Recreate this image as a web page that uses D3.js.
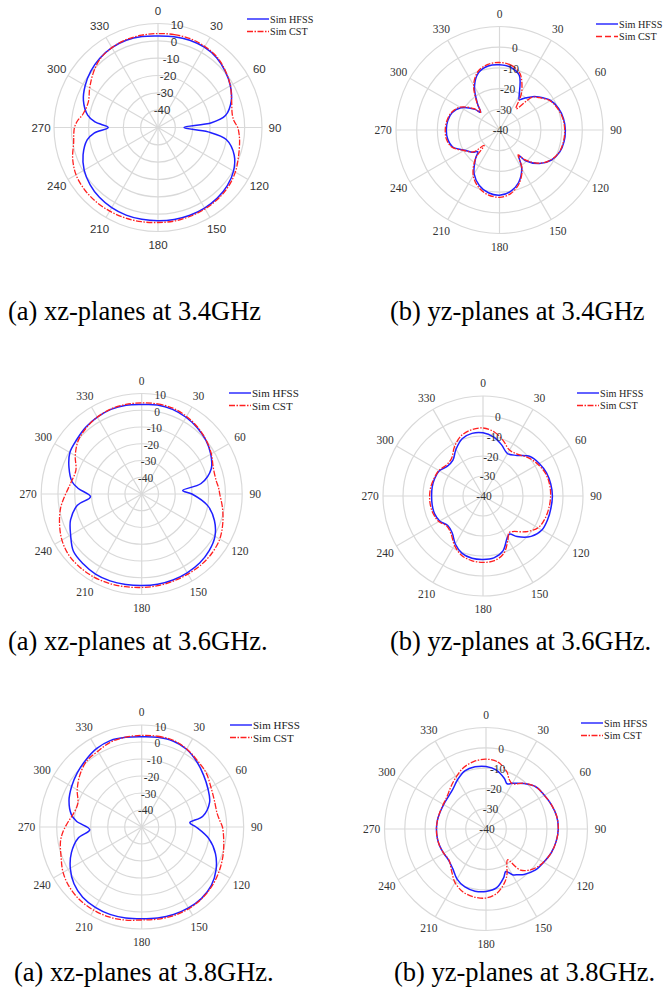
<!DOCTYPE html>
<html>
<head>
<meta charset="utf-8">
<script src="https://cdn.jsdelivr.net/npm/d3@7"></script>
<style>
  body { margin: 0; background: #fff; }
  svg { display: block; }
</style>
</head>
<body>
<script>
// ---- Radiation pattern data (gain in dB vs. angle in degrees) ----

// xz-plane, 3.4 GHz
const angXZ34 = [0,10,20,30,40,50,60,70,80,85,90,95,100,110,120,130,140,150,160,170,180,190,200,210,220,230,240,250,260,265,270,275,280,290,300,310,320,330,340,350];
const hfssXZ34 = [2.8,3.2,3.6,3.5,2.6,0.6,-1.8,-5,-10.5,-19,-35,-21,-10,-3.2,0.3,2.2,3.2,3.7,3.9,3.9,3.8,3.8,3.8,3.4,2.6,1.2,-0.8,-4,-8.5,-13,-21.3,-13.5,-8.8,-4.2,-1.5,0.6,2.2,3.2,3.6,3.3];
const cstXZ34 = [4.2,4.4,4.5,4.0,3.0,0.8,-1.8,-4.8,-6.5,-6,-4,-3,-2.2,-0.6,1.5,3,3.8,4.2,4.5,4.8,4.8,5.2,5.5,5.7,5.8,5.5,4.6,2.4,-0.6,-1.2,-1.8,-3.5,-6,-7.2,-4.5,-1.2,1.8,3.2,3.9,4.1];

// yz-plane, 3.4 GHz
const angYZ34 = [0,10,20,30,33,38,45,50,60,70,80,90,100,110,120,130,140,143,150,160,170,180,190,200,210,220,225,230,240,250,260,270,280,290,300,310,313,320,330,340,350];
const hfssYZ34 = [-8.5,-9.2,-12,-21,-22.5,-20.5,-17.2,-15.2,-11.5,-9.6,-8.6,-8.2,-8.3,-9,-11,-14.8,-20.8,-24.5,-18.5,-13,-9.8,-8.5,-9.2,-11.5,-15.5,-22,-25.2,-23.2,-20.5,-16,-14.6,-14.3,-14.6,-15.6,-18.5,-24.5,-27.5,-23.5,-15.8,-10.5,-8.6];
const cstYZ34 = [-7.4,-8.2,-11,-18.5,-22,-27,-17.5,-15.6,-11.8,-10,-8.9,-8.5,-8.6,-9.2,-11.2,-15,-21.5,-25,-18.2,-12.4,-8.8,-7.5,-8.2,-10.5,-14.6,-22,-29.5,-23.5,-20.2,-15.6,-14,-13.8,-14.2,-15.3,-18,-24,-27.5,-23.2,-15,-9.8,-7.8];

// xz-plane, 3.6 GHz
const angXZ36 = [0,10,20,30,40,50,60,70,80,85,90,100,110,120,130,140,150,160,170,180,190,200,210,220,230,240,250,260,267,275,280,290,300,310,320,330,340,350];
const hfssXZ36 = [3.4,4.0,3.8,2.9,1.6,0,-2.4,-5.8,-14,-25.4,-20,-10,-3.8,0.5,2.6,3.8,4.3,4.6,4.7,4.6,4.8,5.2,5.2,4.4,3.2,-1,-4.8,-11,-19.4,-12,-7.8,-3.8,-0.5,0.6,2.0,3.0,3.8,3.8];
const cstXZ36 = [4.4,4.6,4.5,3.5,2,0.2,-2,-4.5,-4.8,-4,-3.4,-1,1.5,3.8,4.8,5.2,5.2,5.3,5.6,5.8,6.2,6.8,7.2,7.2,6.8,5,2.2,-0.8,-3.5,-6.2,-7.4,-8.2,-4.2,-0.5,1.5,3,4,4.3];

// yz-plane, 3.6 GHz
const angYZ36 = [0,10,20,30,40,50,60,70,80,90,100,110,120,130,140,145,150,160,170,180,190,200,210,220,230,240,250,260,270,280,290,300,310,320,330,340,350];
const hfssYZ36 = [-8.4,-10,-12.8,-15.5,-13.5,-9.3,-7.5,-6.2,-5.6,-5.3,-5.5,-5.6,-6,-8.6,-13.5,-16.8,-15.8,-10.8,-8.6,-8.3,-8.4,-9.5,-12.3,-16,-17,-15,-14.2,-14.2,-14.3,-14.2,-14.3,-14.8,-16.8,-16.6,-13,-9.5,-8.2];
const cstYZ36 = [-6,-7.5,-10.5,-13.5,-12.8,-10.3,-8.3,-6.8,-6.2,-6.2,-6.5,-7,-8.2,-12.2,-16.8,-17.5,-15,-9.5,-7.2,-6.8,-7.2,-8.5,-11.5,-15.2,-16.5,-14.5,-13.6,-13.3,-13.3,-13.5,-14,-14.5,-16,-15.5,-11.5,-8,-6.4];

// xz-plane, 3.8 GHz
const angXZ38 = [0,10,20,30,40,50,60,70,80,85,90,100,110,120,130,140,150,160,170,180,190,200,210,220,230,240,250,260,267,275,280,290,300,310,320,330,340,350];
const hfssXZ38 = [3.1,3.6,3.8,2.8,0.3,-2.5,-5,-7.5,-13.5,-21.6,-18,-9.8,-3.8,0.5,3.5,4.8,5,4.8,4.3,3.9,4.3,4.7,4.6,4,2,-1.5,-6,-12,-19.4,-11.5,-8,-4.5,-2.4,-0.5,1.3,3.2,4.1,3.6];
const cstXZ38 = [3.9,4.2,4.3,3,1,-0.5,-3,-4.5,-4.9,-4,-2.5,-1,0.8,2.5,4,5,5.5,5.4,5,4.7,5.6,6.3,6.5,6.3,5.3,3.4,0.5,-1.5,-3.8,-7,-8.8,-10,-6.2,-2.5,0.5,1.5,3.2,3.7];

// yz-plane, 3.8 GHz
const angYZ38 = [0,10,20,25,30,40,50,60,70,80,90,100,110,120,130,140,145,150,155,160,170,180,190,200,210,220,230,240,250,260,270,280,290,300,310,320,330,340,350];
const hfssYZ38 = [-9.2,-10.5,-13.5,-15.4,-14,-10.8,-7.8,-6.8,-5.6,-4.6,-4.4,-4.9,-5.8,-7.2,-8.4,-10.8,-12.5,-14,-16.9,-14.5,-10.5,-9.2,-8.9,-9.6,-11.5,-14.5,-16,-16,-15.7,-15.6,-15.6,-15.7,-15.9,-15.9,-15.6,-14.5,-12,-9.5,-8.9];
const cstYZ38 = [-5.6,-6.5,-10,-13,-14.2,-10.6,-7.8,-6.8,-5.6,-4.6,-4.4,-4.9,-5.8,-7.3,-9.5,-13.5,-21.5,-19.5,-15.5,-12.5,-8,-6,-6,-7,-9.5,-13.5,-16.2,-16,-15.7,-15.6,-15.6,-15.7,-15.8,-15.7,-15,-13,-10.5,-7.8,-6.2];

// Axis ticks and labels
const angleTicks = [0,30,60,90,120,150,180,210,240,270,300,330];
const radialTicksXZ = [-40,-30,-20,-10,0,10];
const radialTicksYZ = [-40,-30,-20,-10,0];
const seriesNames = ["Sim HFSS", "Sim CST"];
const captions = [
  "(a) xz-planes at 3.4GHz", "(b) yz-planes at 3.4GHz",
  "(a) xz-planes at 3.6GHz.", "(b) yz-planes at 3.6GHz.",
  "(a) xz-planes at 3.8GHz.", "(b) yz-planes at 3.8GHz."
];

// ---- Layout ----
const W = 668, H = 990;
const SANS = "'Liberation Sans', Arial, sans-serif";
const SERIF = "'Liberation Serif', 'Times New Roman', serif";
const BLUE = "#1f1fff", RED = "#ff2020", GRID = "#d9d9d9";
const DASHDOT = "6,1.5,1.5,1.5", DASH = "6,3";

const panels = [
  { ang: angXZ34, hfss: hfssXZ34, cst: cstXZ34, cx: 158, cy: 127.5, R: 104, min: -50, rt: radialTicksXZ, font: SANS, leg: [247, 19], legSize: 10.2, legDash: DASHDOT },
  { ang: angYZ34, hfss: hfssYZ34, cst: cstYZ34, cx: 499.5, cy: 130, R: 103.5, min: -40, rt: radialTicksYZ, font: SERIF, leg: [596, 24], legSize: 10.2, legDash: DASH },
  { ang: angXZ36, hfss: hfssXZ36, cst: cstXZ36, cx: 141.7, cy: 494, R: 100.5, min: -50, rt: radialTicksXZ, font: SERIF, leg: [229, 393], legSize: 11, legDash: DASHDOT },
  { ang: angYZ36, hfss: hfssYZ36, cst: cstYZ36, cx: 483, cy: 496, R: 100, min: -40, rt: radialTicksYZ, font: SERIF, leg: [577, 393], legSize: 10.2, legDash: DASHDOT },
  { ang: angXZ38, hfss: hfssXZ38, cst: cstXZ38, cx: 141.7, cy: 827, R: 102, min: -50, rt: radialTicksXZ, font: SERIF, leg: [230, 725], legSize: 11, legDash: DASHDOT },
  { ang: angYZ38, hfss: hfssYZ38, cst: cstYZ38, cx: 486, cy: 829, R: 101.5, min: -40, rt: radialTicksYZ, font: SERIF, leg: [581, 723], legSize: 10.2, legDash: DASHDOT }
];

const captionPos = [[8, 320], [390, 320], [8, 650], [390, 650], [14, 981], [394, 981]];

const svg = d3.select("body").append("svg")
  .attr("width", W).attr("height", H)
  .attr("viewBox", `0 0 ${W} ${H}`);

const rad = d => d * Math.PI / 180;

function drawPolar(p) {
  const g = svg.append("g").attr("transform", `translate(${p.cx},${p.cy})`);
  const r = d3.scaleLinear().domain([p.min, 10]).range([0, p.R]).clamp(true);

  // concentric rings, one per 10 dB
  const rings = d3.range(p.min + 10, 10.001, 10);
  g.selectAll("circle.ring").data(rings).join("circle")
    .attr("class", "ring")
    .attr("r", d => r(d))
    .attr("fill", "none").attr("stroke", GRID).attr("stroke-width", 1.2);

  // spokes every 30 degrees
  g.selectAll("line.spoke").data(angleTicks).join("line")
    .attr("class", "spoke")
    .attr("x1", 0).attr("y1", 0)
    .attr("x2", d => p.R * Math.sin(rad(d)))
    .attr("y2", d => -p.R * Math.cos(rad(d)))
    .attr("stroke", GRID).attr("stroke-width", 1.2);

  // angle labels outside the outer ring
  const lr = p.R + 13;
  g.selectAll("text.ang").data(angleTicks).join("text")
    .attr("class", "ang")
    .attr("x", d => lr * Math.sin(rad(d)))
    .attr("y", d => -lr * Math.cos(rad(d)))
    .attr("text-anchor", "middle").attr("dominant-baseline", "central")
    .attr("font-family", p.font).attr("font-size", 11.5).attr("fill", "#333")
    .text(d => d);

  // traces
  const line = d3.lineRadial()
    .curve(d3.curveCatmullRomClosed.alpha(0.5));
  const ptsH = p.ang.map((a, i) => [rad(a), r(p.hfss[i])]);
  const ptsC = p.ang.map((a, i) => [rad(a), r(p.cst[i])]);
  g.append("path").attr("d", line(ptsH))
    .attr("fill", "none").attr("stroke", BLUE).attr("stroke-width", 1.5);
  g.append("path").attr("d", line(ptsC))
    .attr("fill", "none").attr("stroke", RED).attr("stroke-width", 1.3)
    .attr("stroke-dasharray", DASHDOT);

  // radial (dB) labels, placed along a slightly tilted ray
  const tilt = rad(10);
  g.selectAll("text.rad").data(p.rt).join("text")
    .attr("class", "rad")
    .attr("x", d => r(d) * Math.sin(tilt) + 1)
    .attr("y", d => -r(d) * Math.cos(tilt))
    .attr("text-anchor", "middle").attr("dominant-baseline", "central")
    .attr("font-family", p.font).attr("font-size", 11.5).attr("fill", "#333")
    .text(d => d);

  // legend
  const lg = svg.append("g").attr("transform", `translate(${p.leg[0]},${p.leg[1]})`);
  seriesNames.forEach((name, i) => {
    const y = i * 12.5;
    lg.append("line").attr("x1", 0).attr("x2", 22).attr("y1", y).attr("y2", y)
      .attr("stroke", i === 0 ? BLUE : RED).attr("stroke-width", 1.4)
      .attr("stroke-dasharray", i === 0 ? null : p.legDash);
    lg.append("text").attr("x", 23).attr("y", y)
      .attr("dominant-baseline", "central")
      .attr("font-family", SERIF).attr("font-size", p.legSize).attr("fill", "#222")
      .text(name);
  });
}

panels.forEach(drawPolar);

// captions
svg.selectAll("text.cap").data(captions).join("text")
  .attr("class", "cap")
  .attr("x", (d, i) => captionPos[i][0])
  .attr("y", (d, i) => captionPos[i][1])
  .attr("font-family", SERIF).attr("font-size", 26.5).attr("fill", "#000")
  .text(d => d);
</script>
</body>
</html>
